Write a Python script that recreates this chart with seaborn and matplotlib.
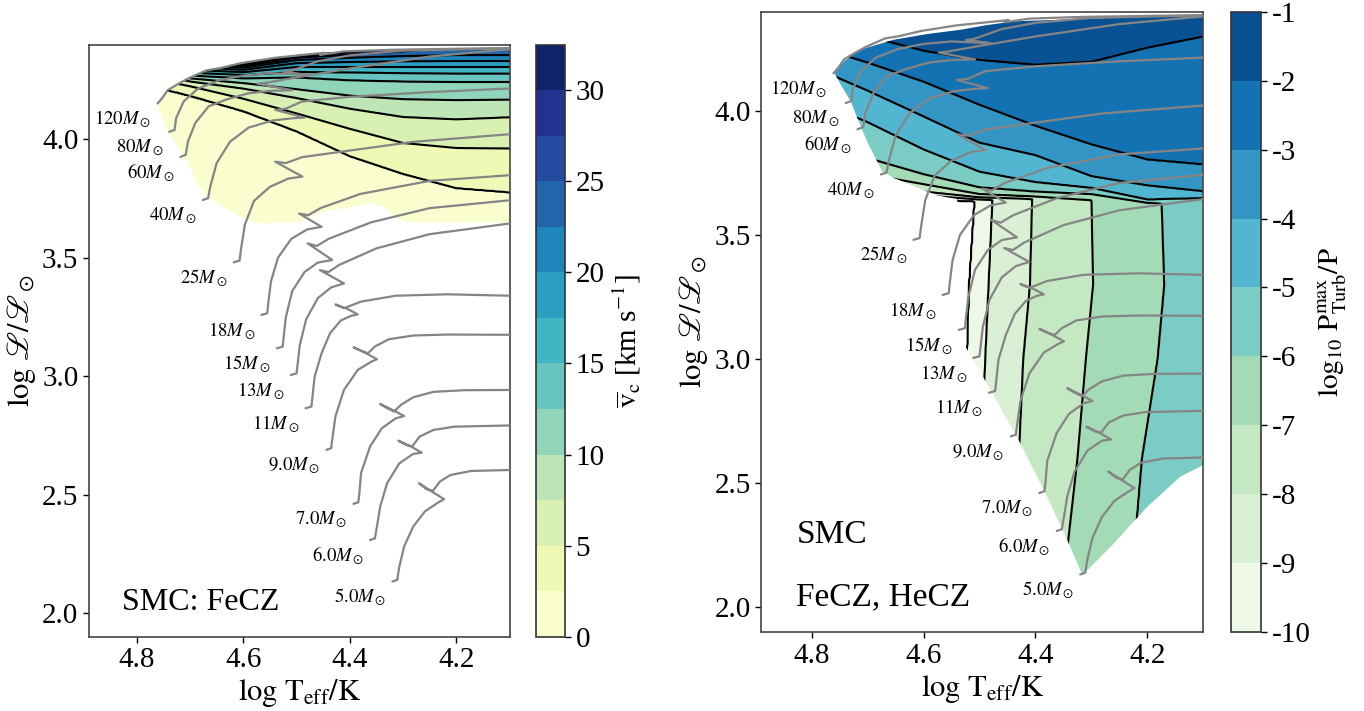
import numpy as np
import matplotlib
matplotlib.use("Agg")
import matplotlib.pyplot as plt
import seaborn as sns
from matplotlib.patches import Polygon

sns.set_style("ticks")
plt.rcParams["font.family"] = ["Liberation Serif", "DejaVu Serif"]
plt.rcParams["mathtext.fontset"] = "stix"
plt.rcParams["axes.unicode_minus"] = False
plt.rcParams["text.color"] = "black"
plt.rcParams["axes.labelcolor"] = "black"
plt.rcParams["xtick.color"] = "black"
plt.rcParams["ytick.color"] = "black"

# ---------------- evolutionary tracks (log Teff, log L_spec) ----------------
t120 = [4.761, 4.752, 4.742, 4.721, 4.704, 4.669, 4.642, 4.605, 4.540, 4.475, 4.448, 4.456, 4.411, 4.316, 4.20, 4.10]
l120 = [4.152, 4.175, 4.208, 4.236, 4.257, 4.292, 4.302, 4.322, 4.345, 4.360, 4.366, 4.357, 4.372, 4.379, 4.383, 4.386]
t80 = [4.739, 4.729, 4.726, 4.712, 4.685, 4.645, 4.60, 4.55, 4.48, 4.524, 4.51, 4.46, 4.40, 4.30, 4.10]
l80 = [4.032, 4.040, 4.090, 4.160, 4.215, 4.250, 4.270, 4.280, 4.273, 4.286, 4.290, 4.330, 4.355, 4.375, 4.385]
t60 = [4.718, 4.708, 4.704, 4.690, 4.665, 4.630, 4.590, 4.550, 4.508, 4.573, 4.555, 4.500, 4.40, 4.25, 4.10]
l60 = [3.926, 3.935, 3.990, 4.070, 4.140, 4.170, 4.195, 4.205, 4.208, 4.235, 4.240, 4.262, 4.300, 4.350, 4.381]
t40 = [4.676, 4.666, 4.662, 4.650, 4.625, 4.590, 4.545, 4.505, 4.485, 4.540, 4.520, 4.490, 4.40, 4.25, 4.10]
l40 = [3.744, 3.752, 3.800, 3.900, 3.990, 4.050, 4.080, 4.090, 4.092, 4.125, 4.130, 4.160, 4.180, 4.200, 4.215]
t25 = [4.618, 4.607, 4.604, 4.597, 4.580, 4.550, 4.515, 4.489, 4.540, 4.520, 4.490, 4.410, 4.280, 4.10]
l25 = [3.481, 3.488, 3.540, 3.640, 3.740, 3.800, 3.835, 3.843, 3.906, 3.900, 3.925, 3.950, 3.990, 4.022]
t18 = [4.566, 4.555, 4.553, 4.548, 4.535, 4.510, 4.480, 4.453, 4.495, 4.478, 4.455, 4.380, 4.250, 4.10]
l18 = [3.259, 3.266, 3.310, 3.400, 3.500, 3.580, 3.620, 3.631, 3.687, 3.680, 3.710, 3.770, 3.825, 3.849]
t15 = [4.537, 4.526, 4.524, 4.520, 4.508, 4.485, 4.460, 4.433, 4.479, 4.462, 4.440, 4.360, 4.250, 4.10]
l15 = [3.118, 3.125, 3.170, 3.250, 3.360, 3.440, 3.480, 3.491, 3.561, 3.550, 3.580, 3.650, 3.710, 3.743]
t13 = [4.511, 4.500, 4.498, 4.494, 4.482, 4.460, 4.435, 4.411, 4.456, 4.440, 4.420, 4.350, 4.250, 4.10]
l13 = [3.005, 3.012, 3.050, 3.130, 3.240, 3.330, 3.375, 3.392, 3.448, 3.440, 3.470, 3.540, 3.600, 3.645]
t11 = [4.483, 4.472, 4.470, 4.466, 4.453, 4.437, 4.417, 4.398, 4.385, 4.405, 4.427, 4.411, 4.379, 4.314, 4.217, 4.10]
l11 = [2.865, 2.872, 2.914, 2.999, 3.097, 3.182, 3.235, 3.255, 3.261, 3.285, 3.303, 3.287, 3.315, 3.340, 3.346, 3.340]
t9 = [4.444, 4.435, 4.433, 4.427, 4.411, 4.385, 4.359, 4.349, 4.372, 4.393, 4.379, 4.366, 4.353, 4.327, 4.281, 4.217, 4.10]
l9 = [2.689, 2.696, 2.731, 2.830, 2.942, 3.027, 3.062, 3.072, 3.100, 3.122, 3.108, 3.097, 3.125, 3.156, 3.172, 3.176, 3.175]
t7 = [4.393, 4.384, 4.382, 4.379, 4.362, 4.340, 4.314, 4.298, 4.320, 4.343, 4.330, 4.317, 4.304, 4.281, 4.243, 4.185, 4.10]
l7 = [2.461, 2.468, 2.506, 2.590, 2.703, 2.780, 2.822, 2.832, 2.858, 2.883, 2.865, 2.851, 2.879, 2.911, 2.934, 2.941, 2.942]
t6 = [4.362, 4.353, 4.349, 4.343, 4.330, 4.307, 4.281, 4.265, 4.285, 4.309, 4.294, 4.283, 4.269, 4.243, 4.204, 4.10]
l6 = [2.308, 2.315, 2.365, 2.449, 2.548, 2.632, 2.672, 2.677, 2.703, 2.728, 2.710, 2.703, 2.745, 2.773, 2.787, 2.792]
t5 = [4.320, 4.311, 4.307, 4.298, 4.281, 4.259, 4.236, 4.223, 4.246, 4.270, 4.256, 4.244, 4.231, 4.211, 4.172, 4.10]
l5 = [2.133, 2.140, 2.196, 2.281, 2.365, 2.429, 2.464, 2.481, 2.513, 2.548, 2.523, 2.516, 2.555, 2.583, 2.600, 2.604]

masses = ["120", "80", "60", "40", "25", "18", "15", "13", "11", "9.0", "7.0", "6.0", "5.0"]
tracks_t = [t120, t80, t60, t40, t25, t18, t15, t13, t11, t9, t7, t6, t5]
tracks_l = [l120, l80, l60, l40, l25, l18, l15, l13, l11, l9, l7, l6, l5]

# ---------------- left panel: convective velocity (km/s) ----------------
vc_levels = np.arange(2.5, 32.6, 2.5)
vc_cols = [4.10, 4.20, 4.30, 4.40, 4.50, 4.60, 4.70, 4.78]
# log L where each level is crossed, per column
vc_heights = [
    [3.777, 3.795, 3.855, 3.930, 4.035, 4.120, 4.185, 4.230],
    [3.962, 3.964, 3.985, 4.045, 4.110, 4.172, 4.225, 4.260],
    [4.094, 4.085, 4.095, 4.130, 4.175, 4.215, 4.245, 4.280],
    [4.168, 4.166, 4.170, 4.185, 4.212, 4.238, 4.258, 4.300],
    [4.243, 4.243, 4.245, 4.250, 4.262, 4.258, 4.270, 4.320],
    [4.278, 4.278, 4.280, 4.283, 4.285, 4.272, 4.282, 4.340],
    [4.306, 4.306, 4.306, 4.306, 4.306, 4.284, 4.294, 4.360],
    [4.331, 4.331, 4.330, 4.327, 4.322, 4.294, 4.306, 4.380],
    [4.356, 4.356, 4.352, 4.345, 4.335, 4.303, 4.318, 4.400],
    [4.398, 4.392, 4.372, 4.358, 4.345, 4.310, 4.330, 4.420],
    [4.410, 4.404, 4.386, 4.368, 4.352, 4.316, 4.342, 4.440],
    [4.422, 4.416, 4.398, 4.376, 4.358, 4.321, 4.354, 4.460],
    [4.440, 4.430, 4.410, 4.385, 4.365, 4.330, 4.366, 4.480],
]
vc_edge_t = [4.761, 4.742, 4.721, 4.704, 4.669, 4.642, 4.605, 4.579, 4.540, 4.503, 4.475, 4.411, 4.316,
             4.20, 4.09, 4.09, 4.153, 4.291, 4.316, 4.334, 4.359, 4.453, 4.495, 4.560, 4.592, 4.629,
             4.667, 4.686, 4.711, 4.742]
vc_edge_l = [4.148, 4.208, 4.236, 4.257, 4.292, 4.302, 4.322, 4.330, 4.345, 4.356, 4.362, 4.370, 4.376,
             4.378, 4.379, 3.648, 3.652, 3.648, 3.673, 3.716, 3.730, 3.694, 3.652, 3.645, 3.659, 3.702,
             3.758, 3.814, 3.926, 4.039]

# ---------------- right panel: log10 Pturb/P ----------------
pt_levels = np.arange(-10, -1.5, 1.0)          # -10 ... -2
pt_cols = [4.10, 4.20, 4.30, 4.40, 4.50, 4.60, 4.70, 4.78]
pt_heights = [
    [3.540, 3.550, 3.580, 3.625, 3.635, 3.648, 3.665, 3.700],
    [3.560, 3.570, 3.600, 3.635, 3.643, 3.660, 3.680, 3.720],
    [3.580, 3.590, 3.620, 3.645, 3.652, 3.675, 3.700, 3.750],
    [3.600, 3.610, 3.640, 3.655, 3.665, 3.705, 3.745, 3.800],
    [3.620, 3.630, 3.665, 3.675, 3.692, 3.745, 3.810, 3.880],
    [3.649, 3.643, 3.690, 3.713, 3.755, 3.845, 3.955, 4.030],
    [3.676, 3.700, 3.737, 3.822, 3.872, 3.978, 4.082, 4.160],
    [3.784, 3.804, 3.865, 3.940, 4.025, 4.118, 4.195, 4.250],
    [4.300, 4.255, 4.198, 4.186, 4.205, 4.242, 4.300, 4.400],
]
# near-vertical contours in the lower part: log Teff of levels -10, -9, -8, -7, -6 at given log L
pt_low_rows = [2.2, 2.6, 3.0, 3.3, 3.65, 3.9]
pt_low_pos = [
    [4.530, 4.530, 4.522, 4.518, 4.508, 4.500],
    [4.500, 4.497, 4.490, 4.484, 4.477, 4.470],
    [4.440, 4.430, 4.422, 4.410, 4.406, 4.400],
    [4.345, 4.325, 4.310, 4.297, 4.300, 4.300],
    [4.225, 4.210, 4.182, 4.170, 4.175, 4.175],
]
pt_edge_t = [4.759, 4.742, 4.713, 4.653, 4.593, 4.534, 4.489, 4.439, 4.26, 4.09, 4.09, 4.141, 4.200,
             4.260, 4.316, 4.343, 4.379, 4.427, 4.480, 4.530, 4.540, 4.576, 4.623, 4.653, 4.674,
             4.686, 4.701, 4.716, 4.730, 4.748]
pt_edge_l = [4.153, 4.200, 4.247, 4.287, 4.310, 4.327, 4.345, 4.361, 4.375, 4.385, 2.585, 2.527, 2.406,
             2.258, 2.130, 2.271, 2.446, 2.661, 2.876, 3.070, 3.645, 3.660, 3.703, 3.730, 3.757,
             3.811, 3.878, 3.958, 4.039, 4.106]

tt = np.linspace(4.05, 4.85, 400)
ll = np.linspace(1.9, 4.45, 700)


def band_field(cols, heights, levels, low, high):
    hk = np.array([np.interp(tt, cols, h) for h in heights])
    z = np.empty((ll.size, tt.size))
    for j in range(tt.size):
        z[:, j] = np.interp(ll, np.r_[3.0, hk[:, j], 4.6], np.r_[low, levels, high])
    return z


vc = band_field(vc_cols, vc_heights, vc_levels, 0.1, 33.0)

pt_up = band_field(pt_cols, pt_heights, pt_levels, -12.0, -1.05)
pos = np.array([np.interp(ll, pt_low_rows, p) for p in pt_low_pos])
pt_low = np.empty_like(pt_up)
for i in range(ll.size):
    knots = np.r_[4.0, pos[::-1, i], 4.9]
    pt_low[i] = np.interp(tt, knots, [-5.2, -6, -7, -8, -9, -10, -11])
pt = np.maximum(pt_low, pt_up)


fig = plt.figure(figsize=(13.64, 7.11), dpi=100)
ax1 = fig.add_axes([0.0651, 0.1045, 0.3085, 0.8326])
cax1 = fig.add_axes([0.3930, 0.1045, 0.0213, 0.8326])
ax2 = fig.add_axes([0.5581, 0.1107, 0.3241, 0.8729])
cax2 = fig.add_axes([0.9025, 0.1107, 0.0220, 0.8729])


def panel(ax, z, levels_fill, levels_line, cmap, edge_t, edge_l):
    clip = Polygon(np.column_stack([edge_t, edge_l]), closed=True, transform=ax.transData)
    cf = ax.contourf(tt, ll, z, levels=levels_fill, cmap=cmap)
    cl = ax.contour(tt, ll, z, levels=levels_line, colors="k", linewidths=1.5, linestyles="solid")
    cf.set_clip_path(clip)
    cl.set_clip_path(clip)
    for m, t, l in zip(masses, tracks_t, tracks_l):
        sns.lineplot(x=t, y=l, sort=False, estimator=None, color="#858585", lw=1.6, ax=ax, zorder=3)
        ax.annotate(f"${m}M_\\odot$", (t[0], l[0]), xytext=(-6, -16), textcoords="offset pixels",
                    ha="right", va="center", fontsize=13.5)
    ax.set_xlim(4.89, 4.10)
    ax.set_ylim(1.90, 4.40)
    ax.set_xticks([4.8, 4.6, 4.4, 4.2])
    ax.set_yticks([2.0, 2.5, 3.0, 3.5, 4.0])
    ax.xaxis.set_major_formatter(plt.FormatStrFormatter("%.1f"))
    ax.yaxis.set_major_formatter(plt.FormatStrFormatter("%.1f"))
    ax.tick_params(labelsize=21, length=4, width=1, direction="out", colors="black")
    for s in ax.spines.values():
        s.set_color("#444444")
        s.set_linewidth(1.2)
    ax.set_xlabel(r"$\log\,\mathrm{T_{eff}}/\mathrm{K}$", fontsize=22, labelpad=3)
    ax.set_ylabel(r"$\log\,\mathscr{L}/\mathscr{L}_\odot$", fontsize=22, labelpad=3)
    return cf


cf1 = panel(ax1, vc, np.arange(0, 32.6, 2.5), vc_levels, "YlGnBu", vc_edge_t, vc_edge_l)
cf2 = panel(ax2, pt, np.arange(-10, -0.9, 1.0), pt_levels, "GnBu", pt_edge_t, pt_edge_l)

ax1.text(4.828, 2.045, "SMC: FeCZ", fontsize=23, ha="left", va="center")
ax2.text(4.826, 2.292, "SMC", fontsize=24, ha="left", va="center")
ax2.text(4.828, 2.042, "FeCZ, HeCZ", fontsize=24, ha="left", va="center")

cb1 = fig.colorbar(cf1, cax=cax1, ticks=[0, 5, 10, 15, 20, 25, 30])
cb1.set_label(r"$\overline{\mathrm{v}}_\mathrm{c}$ [km s$^{-1}$]", fontsize=21)
cb2 = fig.colorbar(cf2, cax=cax2, ticks=np.arange(-10, 0, 1))
cb2.set_ticklabels([str(v) for v in range(-10, 0)])
cb2.set_label(r"$\log_{10}\,\mathrm{P^{max}_{Turb}/P}$", fontsize=21)
for cb in (cb1, cb2):
    cb.ax.tick_params(labelsize=21, length=4, width=1, colors="black")
    cb.outline.set_linewidth(1.2)
    cb.outline.set_edgecolor("#333333")

fig.savefig("out.png", dpi=100)
